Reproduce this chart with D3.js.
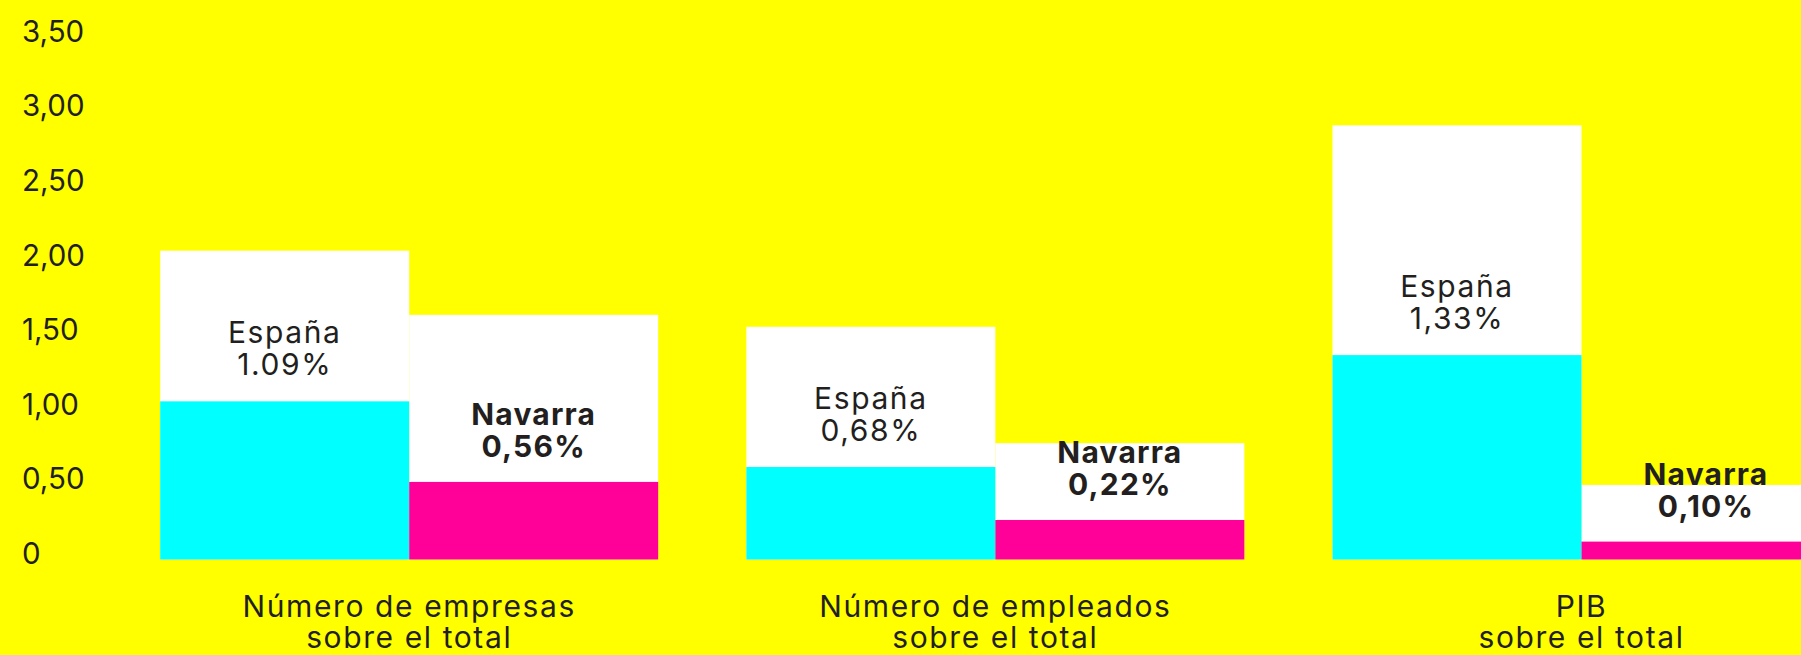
<!DOCTYPE html>
<html>
<head>
<meta charset="utf-8">
<script src="https://cdn.jsdelivr.net/npm/d3@7/dist/d3.min.js"></script>
<style>
  html, body { margin: 0; padding: 0; background: #ffff00; }
  svg { display: block; }
  text { font-family: Inter, "Noto Sans", sans-serif; fill: #231f20; }
</style>
</head>
<body>
<svg id="chart" width="1801" height="655"></svg>
<script>
// ---- data ----
const categories = ["Número de empresas", "Número de empleados", "PIB"];
const categorySubtitles = ["sobre el total", "sobre el total", "sobre el total"];
const seriesNames = ["España", "Navarra"];
const espanaValues = [1.06, 0.62, 1.37];      // cyan bar heights as drawn
const navarraValues = [0.52, 0.265, 0.12];    // magenta bar heights as drawn
const espanaBoxTops = [2.07, 1.56, 2.91];     // white label boxes (España)
const navarraBoxTops = [1.64, 0.78, 0.50];    // white label boxes (Navarra)
const espanaLabels = ["1.09%", "0,68%", "1,33%"];
const navarraLabels = ["0,56%", "0,22%", "0,10%"];
const yTicks = [0, 0.5, 1, 1.5, 2, 2.5, 3, 3.5];
const yTickLabels = ["0", "0,50", "1,00", "1,50", "2,00", "2,50", "3,00", "3,50"];

// ---- layout ----
const W = 1801, H = 655;
const svg = d3.select("#chart");
svg.append("rect").attr("width", W).attr("height", H).attr("fill", "#ffff00");

const y = d3.scaleLinear().domain([0, 3.5]).range([559.5, 37.3]);
const xCenter = d3.scalePoint().domain(categories).range([409.2, 1581.5]);
const barW = 249;
const xSub = d3.scaleBand().domain(seriesNames).range([-barW, barW]).padding(0);

const fontSize = 30;

// axis (labels only)
const axis = d3.axisRight(y)
  .tickValues(yTicks)
  .tickFormat((d, i) => yTickLabels[i])
  .tickSize(0)
  .tickPadding(0);
const gAxis = svg.append("g").attr("transform", "translate(22,0)").call(axis);
gAxis.select(".domain").remove();
gAxis.selectAll("text")
  .attr("dy", "4px")
  .attr("text-anchor", "start")
  .style("font-family", "Inter, 'Noto Sans', sans-serif")
  .style("font-size", "29.5px")
  .style("fill", "#231f20");

const rows = categories.map((c, i) => ({
  cat: c, sub: categorySubtitles[i],
  esp: espanaValues[i], nav: navarraValues[i],
  espBox: espanaBoxTops[i], navBox: navarraBoxTops[i],
  espLab: espanaLabels[i], navLab: navarraLabels[i]
}));

const groups = svg.selectAll("g.grp").data(rows).join("g")
  .attr("class", "grp")
  .attr("transform", d => `translate(${xCenter(d.cat)},0)`);

// white label boxes
groups.append("rect")
  .attr("x", xSub("España")).attr("width", xSub.bandwidth())
  .attr("y", d => y(d.espBox)).attr("height", d => y(0) - y(d.espBox))
  .attr("fill", "#ffffff");
groups.append("rect")
  .attr("x", xSub("Navarra")).attr("width", xSub.bandwidth())
  .attr("y", d => y(d.navBox)).attr("height", d => y(0) - y(d.navBox))
  .attr("fill", "#ffffff");

// value bars
groups.append("rect")
  .attr("x", xSub("España")).attr("width", xSub.bandwidth())
  .attr("y", d => y(d.esp)).attr("height", d => y(0) - y(d.esp))
  .attr("fill", "#00ffff");
groups.append("rect")
  .attr("x", xSub("Navarra")).attr("width", xSub.bandwidth())
  .attr("y", d => y(d.nav)).attr("height", d => y(0) - y(d.nav))
  .attr("fill", "#ff0099");

// España labels
const espX = xSub("España") + xSub.bandwidth() / 2;
const navX = xSub("Navarra") + xSub.bandwidth() / 2;
const lh = 32;
const espT = groups.append("text")
  .attr("text-anchor", "middle")
  .style("font-size", fontSize + "px").style("font-weight", 400)
  .style("letter-spacing", "1.6px");
espT.append("tspan").attr("x", espX).attr("y", d => y(d.esp) - 26 - lh).text("España");
espT.append("tspan").attr("x", espX).attr("y", d => y(d.esp) - 26).text(d => d.espLab);

const navT = groups.append("text")
  .attr("text-anchor", "middle")
  .style("font-size", fontSize + "px").style("font-weight", 700)
  .style("letter-spacing", "1.2px");
navT.append("tspan").attr("x", navX).attr("y", d => y(d.nav) - 25 - lh).text("Navarra");
navT.append("tspan").attr("x", navX).attr("y", d => y(d.nav) - 25).text(d => d.navLab);

// category labels
const catT = groups.append("text")
  .attr("text-anchor", "middle")
  .style("font-size", fontSize + "px").style("font-weight", 400)
  .style("letter-spacing", "1.6px");
catT.append("tspan").attr("x", 0).attr("y", y(0) + 57).text(d => d.cat);
catT.append("tspan").attr("x", 0).attr("y", y(0) + 88).text(d => d.sub);
</script>
</body>
</html>
